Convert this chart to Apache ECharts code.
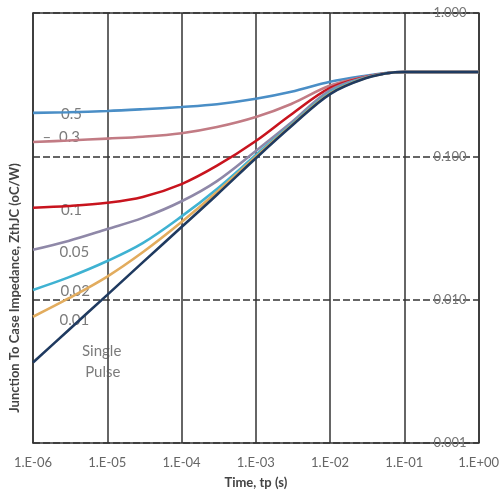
<!DOCTYPE html>
<html>
<head>
<meta charset="utf-8">
<script src="https://cdn.jsdelivr.net/npm/echarts@6/dist/echarts.min.js"></script>
<style>
  html, body { margin: 0; padding: 0; background: #fff; }
  #chart { width: 502px; height: 498px; }
</style>
</head>
<body>
<div id="chart"></div>
<script>
// time points (s)
const tp = [1e-6, 3e-6, 1e-5, 3e-5, 1e-4, 3e-4, 1e-3, 3e-3, 1e-2, 3e-2, 7e-2, 1e-1, 1]

// ZthJC (oC/W) per duty cycle
const d05 = [0.201, 0.203, 0.207, 0.213, 0.221, 0.231, 0.252, 0.282, 0.331, 0.365, 0.386, 0.388, 0.388]
const d03 = [0.126, 0.129, 0.133, 0.137, 0.145, 0.160, 0.188, 0.232, 0.312, 0.36, 0.385, 0.388, 0.388]
const d01 = [0.0438, 0.0450, 0.0474, 0.052, 0.064, 0.086, 0.128, 0.196, 0.300, 0.358, 0.385, 0.388, 0.388]
const d005 = [0.0223, 0.0257, 0.0311, 0.0372, 0.0486, 0.0672, 0.109, 0.172, 0.290, 0.356, 0.385, 0.388, 0.388]
const d002 = [0.0117, 0.0143, 0.0186, 0.0248, 0.0381, 0.0592, 0.102, 0.167, 0.280, 0.354, 0.385, 0.388, 0.388]
const d001 = [0.0076, 0.0102, 0.0145, 0.0214, 0.0348, 0.0563, 0.0992, 0.164, 0.275, 0.352, 0.385, 0.388, 0.388]
const single = [0.00364, 0.00612, 0.0108, 0.0182, 0.0321, 0.054, 0.097, 0.162, 0.272, 0.350, 0.385, 0.388, 0.388]

const names = ['0.5', '0.3', '0.1', '0.05', '0.02', '0.01', 'Single Pulse']
const values = [d05, d03, d01, d005, d002, d001, single]
const colors = ['#4a8ec6', '#c27b84', '#c8141e', '#8f88a8', '#3fb2d2', '#e2ac5e', '#1f3a60']

// curve labels: [time, Zth, text]
const labels = [
  [3.3e-6, 0.198, '0.5'],
  [2.4e-6, 0.137, '\u2013  0.3'],
  [3.3e-6, 0.0418, '0.1'],
  [3.6e-6, 0.0216, '0.05'],
  [3.7e-6, 0.0114, '0.02'],
  [3.6e-6, 0.0072, '0.01'],
  [8.4e-6, 0.0044, 'Single'],
  [8.7e-6, 0.0031, 'Pulse']
]

const xTicks = ['1.E-06', '1.E-05', '1.E-04', '1.E-03', '1.E-02', '1.E-01', '1.E+00']

const chart = echarts.init(document.getElementById('chart'))

const series = values.map((v, i) => ({
  name: names[i],
  type: 'line',
  smooth: 0.35,
  showSymbol: false,
  yAxisIndex: 0,
  lineStyle: { color: colors[i], width: 2.6 },
  data: tp.map((t, k) => [t, v[k]])
}))

series.push({
  type: 'scatter',
  symbolSize: 0,
  silent: true,
  data: labels.map(l => ({ value: [l[0], l[1]], name: l[2] })),
  label: {
    show: true,
    position: 'inside',
    formatter: p => p.name,
    color: '#5a5a5a',
    fontFamily: 'Lato',
    fontSize: 15
  }
})

const option = {
  animation: false,
  backgroundColor: '#fff',
  grid: { left: 33, right: 23, top: 13, bottom: 55 },
  xAxis: [
    {
      type: 'log',
      logBase: 10,
      min: 1e-6,
      max: 1,
      name: 'Time, tp (s)',
      nameLocation: 'middle',
      nameGap: 33,
      nameTextStyle: { fontFamily: 'Lato', fontWeight: 'bold', fontSize: 13, color: '#444' },
      axisLine: { lineStyle: { color: '#333', width: 1.5 } },
      axisTick: { show: false },
      axisLabel: {
        margin: 13,
        color: '#666',
        fontFamily: 'Lato',
        fontSize: 13,
        formatter: v => xTicks[Math.round(Math.log10(v)) + 6]
      },
      splitLine: { show: true, lineStyle: { color: '#333', width: 1.5 } },
      minorSplitLine: { show: false }
    },
    {
      type: 'log',
      min: 1e-6,
      max: 1,
      position: 'top',
      axisLine: { lineStyle: { color: '#333', width: 1.5 } },
      axisTick: { show: false },
      axisLabel: { show: false },
      splitLine: { show: false }
    }
  ],
  yAxis: [
    {
      type: 'log',
      logBase: 10,
      min: 0.001,
      max: 1,
      position: 'right',
      axisLine: { show: true, lineStyle: { color: '#333', width: 1.5 } },
      axisTick: { show: false },
      axisLabel: {
        inside: true,
        margin: 12,
        color: '#777',
        fontFamily: 'Lato',
        fontSize: 13,
        formatter: v => v.toFixed(3)
      },
      splitLine: { show: true, lineStyle: { color: '#333', width: 1.5, type: [7, 3] } }
    },
    {
      type: 'log',
      min: 0.001,
      max: 1,
      position: 'left',
      name: 'Junction To Case Impedance, ZthJC (oC/W)',
      nameLocation: 'middle',
      nameGap: 12,
      nameTextStyle: { fontFamily: 'Lato', fontWeight: 'bold', fontSize: 13, color: '#444', padding: [0, 120, 0, 0] },
      axisLine: { show: true, lineStyle: { color: '#333', width: 1.5 } },
      axisTick: { show: false },
      axisLabel: { show: false },
      splitLine: { show: false }
    }
  ],
  series: series
}

chart.setOption(option)
</script>
</body>
</html>
